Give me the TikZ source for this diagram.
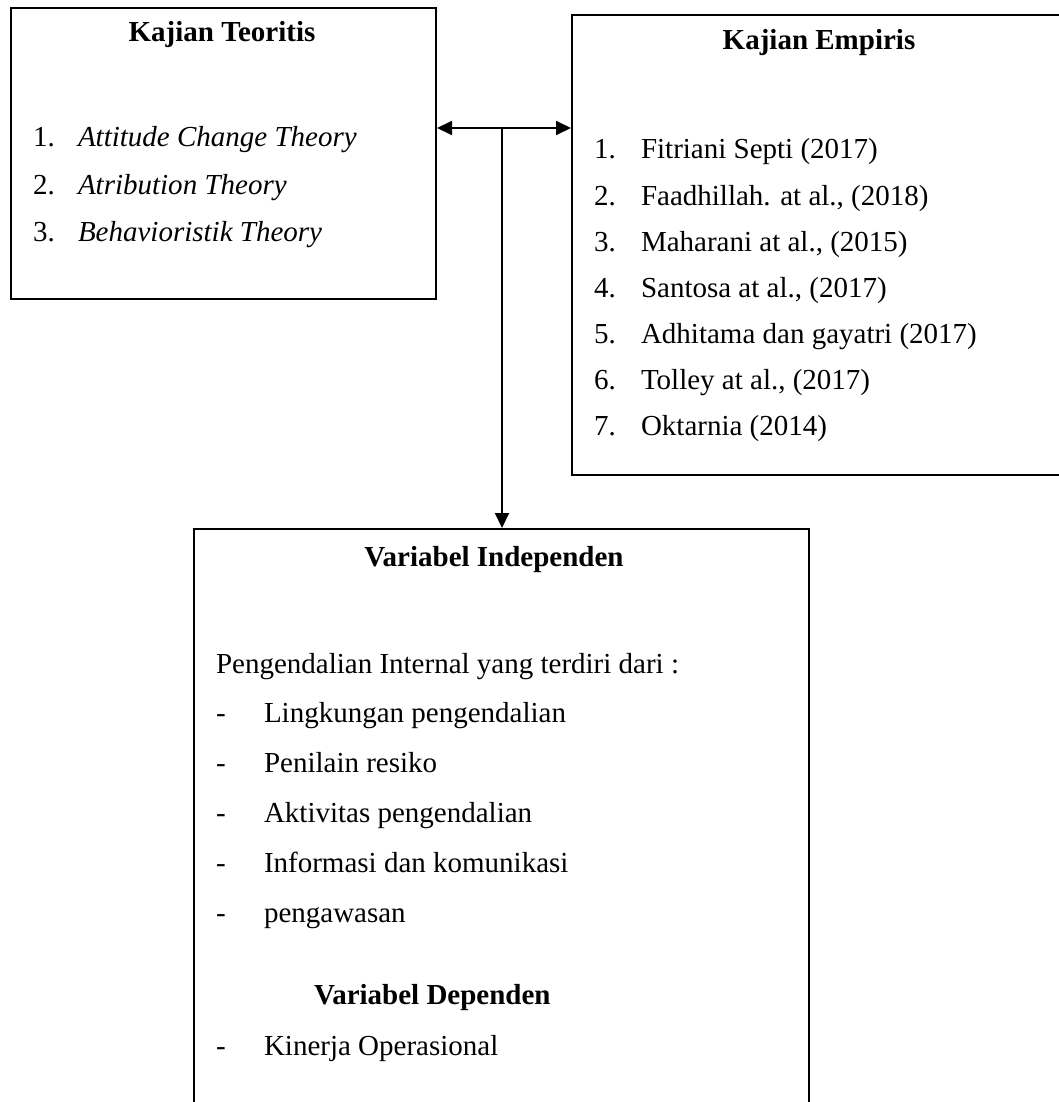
\documentclass[tikz,border=0pt]{standalone}
\usepackage{fontspec}
\setmainfont{Liberation Serif}
\usetikzlibrary{arrows.meta}

\begin{document}
\begin{tikzpicture}[x=1pt, y=-1pt, line width=2pt,
        panel/.style = {draw, rectangle, inner sep=0pt, anchor=north west},
        txt/.style = {inner sep=0pt, anchor=base west, font=\fontsize{29}{34}\selectfont},
        head/.style = {inner sep=0pt, anchor=base, font=\fontsize{29}{34}\selectfont\bfseries},
        tip/.style = {-{Triangle[length=15pt, width=14pt]}}]
        \useasboundingbox (0,0) rectangle (1059,1102);

        % boxes
        \node[panel, minimum width=425pt, minimum height=291pt] (teori) at (10,7) {};
        \node[panel, minimum width=500pt, minimum height=460pt] (empiris) at (571,14) {};
        \node[panel, minimum width=615pt, minimum height=600pt] (indep) at (193,528) {};

        % kajian teoritis
        \node[head] (h1) at (222,42) {Kajian Teoritis};
        \node[txt] (n1) at (32,147) {1.};
        \node[txt] (t1) at (77,147) {\itshape Attitude Change Theory};
        \node[txt] (n2) at (32,194) {2.};
        \node[txt] (t2) at (77,194) {\itshape Atribution Theory};
        \node[txt] (n3) at (32,241) {3.};
        \node[txt] (t3) at (77,241) {\itshape Behavioristik Theory};

        % kajian empiris
        \node[head] (h2) at (819,50) {Kajian Empiris};
        \node[txt] (e1) at (593,159) {1.};
        \node[txt] (r1) at (640,159) {Fitriani Septi (2017)};
        \node[txt] (e2) at (593,205) {2.};
        \node[txt] (r2) at (640,205) {Faadhillah. at al., (2018)};
        \node[txt] (e3) at (593,251) {3.};
        \node[txt] (r3) at (640,251) {Maharani at al., (2015)};
        \node[txt] (e4) at (593,297) {4.};
        \node[txt] (r4) at (640,297) {Santosa at al., (2017)};
        \node[txt] (e5) at (593,343) {5.};
        \node[txt] (r5) at (640,343) {Adhitama dan gayatri (2017)};
        \node[txt] (e6) at (593,389) {6.};
        \node[txt] (r6) at (640,389) {Tolley at al., (2017)};
        \node[txt] (e7) at (593,435) {7.};
        \node[txt] (r7) at (640,435) {Oktarnia (2014)};

        % variabel
        \node[head] (h3) at (494,566) {Variabel Independen};
        \node[txt] (p0) at (215,673) {Pengendalian Internal yang terdiri dari :};
        \node[txt] (d1) at (215,722) {-};
        \node[txt] (p1) at (263,722) {Lingkungan pengendalian};
        \node[txt] (d2) at (215,772) {-};
        \node[txt] (p2) at (263,772) {Penilain resiko};
        \node[txt] (d3) at (215,822) {-};
        \node[txt] (p3) at (263,822) {Aktivitas pengendalian};
        \node[txt] (d4) at (215,872) {-};
        \node[txt] (p4) at (263,872) {Informasi dan komunikasi};
        \node[txt] (d5) at (215,922) {-};
        \node[txt] (p5) at (263,922) {pengawasan};
        \node[head, anchor=base west] (h4) at (313,1004) {Variabel Dependen};
        \node[txt] (d6) at (215,1055) {-};
        \node[txt] (p6) at (263,1055) {Kinerja Operasional};

        % connectors
        \coordinate (mid) at (502,128);
        \draw[tip] (mid) -- (teori.east |- mid);
        \draw[tip] (mid) -- (empiris.west |- mid);
        \draw[tip] (mid) -- (indep.north -| mid);

    \end{tikzpicture}
\end{document}
